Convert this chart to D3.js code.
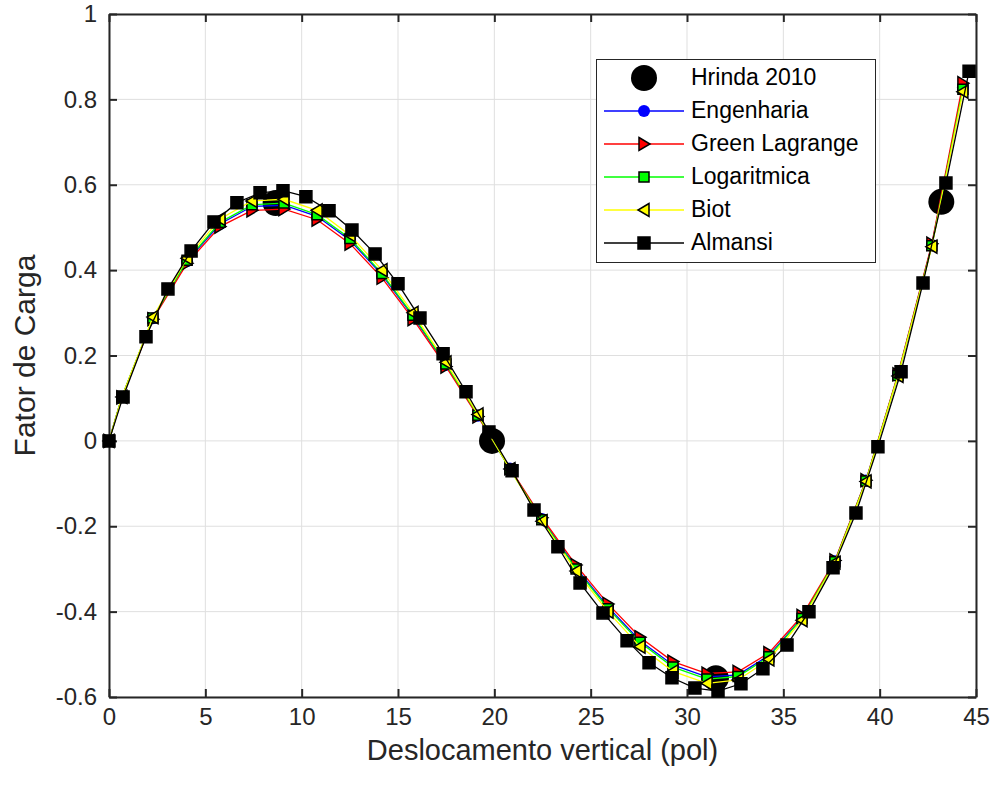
<!DOCTYPE html>
<html>
<head>
<meta charset="utf-8">
<script src="https://cdn.jsdelivr.net/npm/d3@7/dist/d3.min.js"></script>
<style>
  body { margin: 0; background: #fff; }
  text { font-family: "Liberation Sans", Arial, Helvetica, sans-serif; fill: #262626; }
</style>
</head>
<body>
<div id="chart"></div>
<script>
// values
var hrindaX = [8.65, 19.88, 31.5, 43.2];
var hrindaY = [0.557, 0, -0.556, 0.56];

// the four strain measures share almost the same load steps
var stepX = [0, 0.67, 2.28, 4.05, 5.76, 7.42, 9.08, 10.80, 12.51, 14.17, 15.78, 17.49, 19.15, 20.81,
  22.47, 24.24, 25.90, 27.56, 29.27, 31.04, 32.65, 34.25, 35.97, 37.68, 39.29, 40.95, 42.71, 44.32];

var engenhariaY = [0, 0.103, 0.287, 0.421, 0.508, 0.549, 0.552, 0.526, 0.470, 0.389, 0.291, 0.178, 0.059, -0.065,
  -0.183, -0.297, -0.389, -0.468, -0.525, -0.553, -0.548, -0.503, -0.414, -0.282, -0.093, 0.154, 0.459, 0.828];
var greenLagrangeY = [0, 0.102, 0.285, 0.416, 0.502, 0.540, 0.543, 0.518, 0.462, 0.382, 0.285, 0.174, 0.057, -0.064,
  -0.180, -0.291, -0.382, -0.460, -0.517, -0.545, -0.541, -0.497, -0.410, -0.280, -0.092, 0.156, 0.462, 0.838];
var logaritmicaY = [0, 0.103, 0.288, 0.423, 0.512, 0.553, 0.557, 0.530, 0.474, 0.392, 0.294, 0.180, 0.060, -0.066,
  -0.185, -0.300, -0.393, -0.472, -0.530, -0.558, -0.552, -0.506, -0.416, -0.283, -0.094, 0.153, 0.457, 0.824];
var biotY = [0, 0.103, 0.290, 0.428, 0.520, 0.562, 0.566, 0.540, 0.482, 0.400, 0.300, 0.184, 0.062, -0.066,
  -0.188, -0.305, -0.400, -0.482, -0.540, -0.568, -0.560, -0.512, -0.420, -0.285, -0.095, 0.152, 0.455, 0.818];

var almansiX = [0, 0.73, 1.92, 3.06, 4.26, 5.45, 6.64, 7.84, 9.03, 10.22, 11.42, 12.61, 13.81, 15.0, 16.14, 17.34,
  18.53, 19.72, 20.92, 22.06, 23.30, 24.45, 25.64, 26.89, 28.03, 29.22, 30.41, 31.61, 32.80, 33.94, 35.19, 36.33,
  37.58, 38.77, 39.91, 41.11, 42.25, 43.44, 44.64];
var almansiY = [0, 0.103, 0.244, 0.356, 0.445, 0.513, 0.558, 0.581, 0.586, 0.572, 0.539, 0.494, 0.438, 0.368, 0.288, 0.204,
  0.115, 0.021, -0.070, -0.162, -0.248, -0.333, -0.403, -0.468, -0.520, -0.555, -0.579, -0.586, -0.569, -0.534, -0.478, -0.400,
  -0.297, -0.169, -0.014, 0.162, 0.370, 0.604, 0.866];

var xTicks = [0, 5, 10, 15, 20, 25, 30, 35, 40, 45];
var yTicks = [-0.6, -0.4, -0.2, 0, 0.2, 0.4, 0.6, 0.8, 1];

var legendNames = ['Hrinda 2010', 'Engenharia', 'Green Lagrange', 'Logaritmica', 'Biot', 'Almansi'];

var width = 993, height = 785;
var margin = {top: 14, right: 17, bottom: 88, left: 109};
var axisColor = '#262626';

var svg = d3.select('#chart').append('svg')
    .attr('width', width)
    .attr('height', height);

var x = d3.scaleLinear().domain([0, 45]).range([margin.left, width - margin.right]);
var y = d3.scaleLinear().domain([-0.6, 1]).range([height - margin.bottom, margin.top]);

// grid
svg.append('g').selectAll('line').data(xTicks).enter().append('line')
    .attr('x1', function(d) { return x(d); }).attr('x2', function(d) { return x(d); })
    .attr('y1', y(-0.6)).attr('y2', y(1))
    .style('stroke', '#dfdfdf').style('stroke-width', 1);
svg.append('g').selectAll('line').data(yTicks).enter().append('line')
    .attr('y1', function(d) { return y(d); }).attr('y2', function(d) { return y(d); })
    .attr('x1', x(0)).attr('x2', x(45))
    .style('stroke', '#dfdfdf').style('stroke-width', 1);

// axes, ticks pointing inward like matlab
var fmt = function(d) { return d === 0 ? '0' : String(+d.toFixed(1)); };

var xAxis = svg.append('g')
    .attr('transform', 'translate(0,' + y(-0.6) + ')')
    .call(d3.axisBottom(x).tickValues(xTicks).tickSizeInner(-8).tickSizeOuter(0).tickPadding(11).tickFormat(fmt));
var xAxisTop = svg.append('g')
    .attr('transform', 'translate(0,' + y(1) + ')')
    .call(d3.axisTop(x).tickValues(xTicks).tickSizeInner(-8).tickSizeOuter(0).tickFormat(''));
var yAxis = svg.append('g')
    .attr('transform', 'translate(' + x(0) + ',0)')
    .call(d3.axisLeft(y).tickValues(yTicks).tickSizeInner(-8).tickSizeOuter(0).tickPadding(12).tickFormat(fmt));
var yAxisRight = svg.append('g')
    .attr('transform', 'translate(' + x(45) + ',0)')
    .call(d3.axisRight(y).tickValues(yTicks).tickSizeInner(-8).tickSizeOuter(0).tickFormat(''));

[xAxis, xAxisTop, yAxis, yAxisRight].forEach(function(a) {
  a.select('.domain').style('stroke', axisColor).style('stroke-width', 2);
  a.selectAll('.tick line').style('stroke', axisColor).style('stroke-width', 2);
  a.selectAll('.tick text').style('font-size', '24px').style('fill', axisColor)
      .style('font-family', '"Liberation Sans", Arial, sans-serif');
});

// axis titles
svg.append('text')
    .attr('x', (x(0) + x(45)) / 2)
    .attr('y', 760)
    .attr('text-anchor', 'middle')
    .style('font-size', '29px')
    .text('Deslocamento vertical (pol)');

svg.append('text')
    .attr('transform', 'translate(27,' + (y(1) + y(-0.6)) / 2 + ') rotate(-90)')
    .attr('text-anchor', 'middle')
    .attr('dominant-baseline', 'middle')
    .style('font-size', '30px')
    .text('Fator de Carga');

// marker shapes
function markerPath(kind) {
  if (kind === 'right') return 'M-5,-6.5L6,0L-5,6.5Z';
  if (kind === 'left') return 'M5,-6.5L-6,0L5,6.5Z';
  if (kind === 'square') return 'M-5,-5H5V5H-5Z';
  if (kind === 'bigsquare') return 'M-6,-6H6V6H-6Z';
  return null;
}

var series = [
  {name: 'Hrinda 2010', xs: hrindaX, ys: hrindaY, line: null, marker: 'circle', r: 13, fill: '#000', edge: 'none'},
  {name: 'Engenharia', xs: stepX, ys: engenhariaY, line: '#0000ff', marker: 'circle', r: 6, fill: '#0000ff', edge: 'none'},
  {name: 'Green Lagrange', xs: stepX, ys: greenLagrangeY, line: '#ff0000', marker: 'right', fill: '#ff0000', edge: '#000'},
  {name: 'Logaritmica', xs: stepX, ys: logaritmicaY, line: '#00ff00', marker: 'square', fill: '#00ff00', edge: '#000'},
  {name: 'Biot', xs: stepX, ys: biotY, line: '#ffff00', marker: 'left', fill: '#ffff00', edge: '#000'},
  {name: 'Almansi', xs: almansiX, ys: almansiY, line: '#000000', marker: 'bigsquare', fill: '#000', edge: '#000'}
];

var plot = svg.append('g');
var lineGen = d3.line()
    .x(function(d) { return x(d[0]); })
    .y(function(d) { return y(d[1]); });

function drawMarker(sel, s) {
  if (s.marker === 'circle') {
    sel.append('circle').attr('r', s.r).style('fill', s.fill).style('stroke', s.edge);
  } else {
    sel.append('path').attr('d', markerPath(s.marker))
        .style('fill', s.fill).style('stroke', s.edge).style('stroke-width', 1.5)
        .style('stroke-linejoin', 'miter');
  }
}

series.forEach(function(s) {
  var pts = s.xs.map(function(v, i) { return [v, s.ys[i]]; });
  if (s.line) {
    plot.append('path').datum(pts)
        .attr('d', lineGen)
        .style('fill', 'none')
        .style('stroke', s.line)
        .style('stroke-width', 1.3);
  }
  plot.append('g').selectAll('g').data(pts).enter().append('g')
      .attr('transform', function(d) { return 'translate(' + x(d[0]) + ',' + y(d[1]) + ')'; })
      .each(function() { drawMarker(d3.select(this), s); });
});

// legend
var lg = svg.append('g');
lg.append('rect')
    .attr('x', 596.5).attr('y', 59.5).attr('width', 279).attr('height', 203)
    .style('fill', '#fff').style('stroke', axisColor).style('stroke-width', 1);

var rows = lg.selectAll('g.row').data(series).enter().append('g')
    .attr('class', 'row')
    .attr('transform', function(d, i) { return 'translate(0,' + (78 + i * 33) + ')'; });

rows.each(function(s) {
  var row = d3.select(this);
  if (s.line) {
    row.append('line').attr('x1', 604).attr('x2', 684).attr('y1', 0).attr('y2', 0)
        .style('stroke', s.line).style('stroke-width', 1.3);
  }
  var m = row.append('g').attr('transform', 'translate(644,0)');
  drawMarker(m, s);
});

rows.append('text')
    .attr('x', 691)
    .attr('y', 1)
    .attr('dominant-baseline', 'middle')
    .style('font-size', '23px')
    .style('fill', '#000')
    .text(function(d, i) { return legendNames[i]; });
</script>
</body>
</html>
